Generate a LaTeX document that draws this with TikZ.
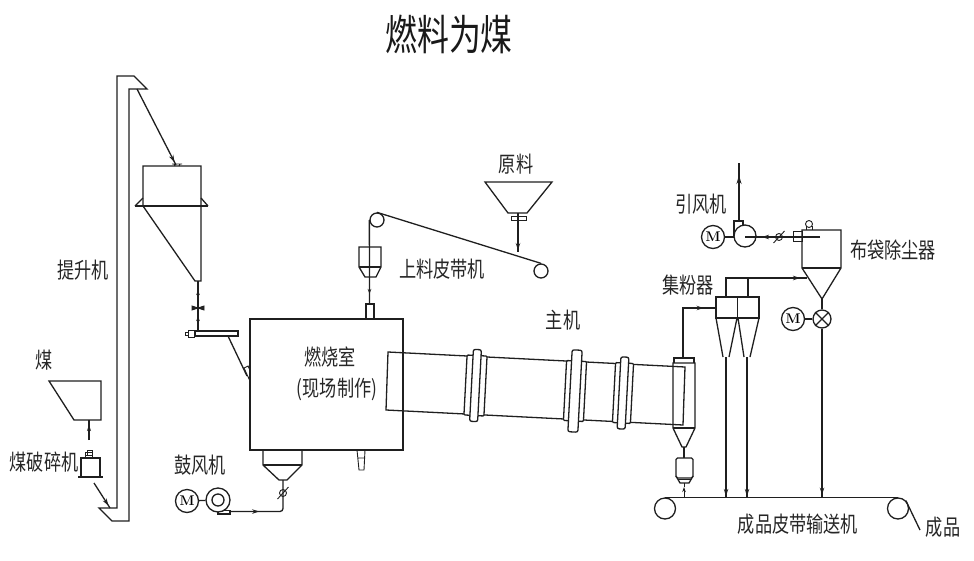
\documentclass[tikz,border=0pt]{standalone}
\usepackage{fontspec}
\usetikzlibrary{arrows.meta,decorations.markings}
\newfontfamily\cjk{Noto Sans CJK SC}[FakeStretch=0.78]
\newfontfamily\cjkt{Noto Sans CJK SC}[FakeStretch=0.76]
\tikzset{
  ln/.style={line width=1.3pt,draw=black!88,line join=miter},
  thin part/.style={line width=0.9pt,draw=black!88},
  lab/.style={font=\cjk\fontsize{22}{24}\selectfont,inner sep=0pt,text=black!85},
  ttl/.style={font=\cjkt\fontsize{42}{46}\selectfont,inner sep=0pt,text=black!90},
  motor/.style={circle,ln,minimum size=23pt,inner sep=0pt,font=\fontsize{14}{14}\selectfont\bfseries},
  pulley/.style={circle,ln,minimum size=#1,inner sep=0pt},
  flow/.style={postaction={decorate,decoration={markings,mark=at position #1 with {\arrow{Stealth[length=7pt,width=4.5pt]}}}}},
}
\newcommand{\tirering}[6]{%
  \begin{scope}[shift={(#1,#2)},rotate=-3]
    \draw[ln,fill=white,rounded corners=1pt] (-#5,-#4) rectangle (#5,#4);
    \draw[ln,fill=white,rounded corners=2pt] (-#6,-#3) rectangle (#6,#3);
  \end{scope}}
\newcommand{\slashvalve}[2]{%
  \draw[thin part] (#1,#2) circle (3.5);
  \draw[thin part] (#1-5.5,#2+6) -- (#1+5.5,#2-6);}
\begin{document}
\begin{tikzpicture}[x=1pt,y=-1pt]
\useasboundingbox (0,0) rectangle (974,560);
% labels
\node[ttl] (title) at (449,34) {燃料为煤};
\node[lab] (tsj) at (83,270) {提升机};
\node[lab] (mei) at (44,360) {煤};
\node[lab] (pss) at (44,462) {煤破碎机};
\node[lab] (gfj) at (200,465) {鼓风机};
\node[lab] (rsh) at (330,357) {燃烧室};
\node[lab] (xc) at (337,389) {(现场制作)};
\node[lab] (yl) at (516,164) {原料};
\node[lab] (slj) at (442,269) {上料皮带机};
\node[lab] (zj) at (563,320) {主机};
\node[lab] (yfj) at (701,204) {引风机};
\node[lab] (bd) at (893,250) {布袋除尘器};
\node[lab] (jf) at (688,285) {集粉器};
\node[lab] (cpj) at (798,524) {成品皮带输送机};
\node[lab] (cp) at (943,527) {成品};
% elevator
\draw[ln] (117,508) -- (117,76) -- (134,76) -- (147,89) -- (129,89) -- (129,521) -- (112,521) -- (99,508) -- cycle;
% chute to silo
\draw[ln,flow=0.96] (137,89) -- (176,165);
\draw[thin part] (172,164) -- (182,164) (174,164) -- (175,166) (180,164) -- (179,166);
% silo
\draw[ln] (143,206) -- (143,166) -- (201,166) -- (201,281) -- (195,281) -- (143,206);
\draw[ln] (135,206) -- (208,206);
\draw[ln] (135,206) -- (143,198) (201,198) -- (208,206);
% pipe and valve under silo
\draw[ln] (198,281) -- (198,331);
\draw[-{Stealth[length=5pt,width=3.5pt]},thin part] (198,296) -- (198,290);
\draw[-{Stealth[length=5pt,width=3.5pt]},thin part] (198,322) -- (198,316);
\draw[thin part,fill=black!85] (192,306) -- (204,310) -- (204,306) -- (192,310) -- cycle;
% screw feeder
\draw[ln,fill=white] (195,331) rectangle (238,336);
\draw[thin part,fill=white] (188,330) rectangle (194,337);
\draw[thin part,fill=white] (185,332) rectangle (188,335);
\draw[ln] (228,336) -- (247,376);
\draw[thin part,fill=white] (244,368) -- (248,366) -- (250,370) -- (250,381) -- cycle;
% combustion chamber
\draw[ln] (250,319) rectangle (403,450);
\draw[ln] (366,319) -- (366,304) -- (374,304) -- (374,319);
\draw[ln] (263,450) -- (263,465) -- (279,480) -- (287,480) -- (302,465) -- (302,450);
\draw[ln] (263,465) -- (302,465);
\draw[thin part] (357,450) -- (359,470) -- (364,470) -- (365,450) (357.5,458) -- (364.5,458);
% blower
\node[motor] (m1) at (187,501) {M};
\node[pulley=24pt] (f1) at (218,500) {};
\node[pulley=12pt] (f1i) at (218,500) {};
\draw[ln] (m1) -- (f1);
\draw[ln] (224,510.5) -- (230,510.5) -- (230,514) -- (218,514) -- (218,512);
\coordinate (blowout) at (230,511.5);
\draw[ln,flow=0.35,rounded corners=3pt] (blowout) -- (283,511.5) -- (283,480);
\slashvalve{283}{493}
% coal hopper + crusher
\draw[ln] (49,381) -- (101,381) -- (101,420) -- (74,420) -- cycle;
\draw[ln] (89,440) -- (89,420);
\draw[-{Stealth[length=6pt,width=4pt]},thin part] (89,432) -- (89,425);
\draw[ln] (81,477) -- (81,458) -- (100,458) -- (100,477);
\draw[ln] (78,477) -- (103,477);
\draw[thin part] (85,458) -- (85,452) -- (92,452) -- (92,458) (85,455) -- (92,455);
\draw[thin part] (87,450) rectangle (92,455);
\draw[ln,flow=0.9] (94,483) -- (110,508);
% raw material hopper
\draw[ln] (485,182) -- (552,182) -- (527,213) -- (508,213) -- cycle;
\draw[thin part] (511,216) rectangle (526,220);
\draw[ln,flow=0.95] (518,213) -- (518,252);
% inclined belt
\node[pulley=14pt] (p1) at (377,220) {};
\node[pulley=14pt] (p2) at (541,271) {};
\draw[ln] (p1.north) -- (p2.north);
\draw[ln] (p1.west) -- (369.5,304);
\draw[ln] (359,247) -- (381,247) -- (381,267) -- (376,277) -- (365,277) -- (359,267) -- cycle;
\draw[ln] (359,267) -- (381,267);
\draw[-{Stealth[length=5pt,width=3.5pt]},thin part] (369.5,284) -- (369.5,294);
% kiln
\draw[ln] (685,367) -- (388,352) -- (386,410) -- (683,425) -- cycle;
\tirering{475.5}{385.5}{36}{30}{10}{4}
\tirering{575}{391}{41}{30}{10}{5}
\tirering{623}{393}{36}{30}{9}{4}
% cyclone at kiln tail
\draw[ln] (673,428) -- (673,363) -- (695,363) -- (695,428) -- (686,447) -- (682,447) -- cycle;
\draw[ln] (673,428) -- (695,428);
\draw[ln] (674,363) -- (674,358) -- (694,358) -- (694,363);
\draw[ln] (684,447) -- (684,458);
\draw[ln,rounded corners=1.5pt] (676,458) rectangle (693,478);
\draw[ln] (676,476) -- (680,483) -- (689,483) -- (693,476);
\draw[thin part] (678,479) -- (691,479);
\draw[-{Stealth[length=5pt,width=3.5pt]},thin part] (684,498) -- (684,487);
\draw[thin part] (684,487) -- (684,483);
% duct to collector
\draw[ln,flow=0.85] (683,358) -- (683,308) -- (716,308);
% collector
\draw[ln] (716,318) rectangle (759,297);
\draw[ln] (737.5,297) -- (737.5,318);
\draw[ln] (716,318) -- (723,357) (737,318) -- (729,357) (738,318) -- (744,357) (759,318) -- (750,357);
\draw[ln] (726,297) -- (726,278) -- (807,278);
\draw[ln] (748,278) -- (748,297);
\draw[-{Stealth[length=7pt,width=4.5pt]},ln] (790,278) -- (800,278);
\draw[ln,flow=0.985] (726,357) -- (726,498);
\draw[ln,flow=0.985] (747,357) -- (747,498);
% bag filter
\draw[ln] (802,268) -- (802,230) -- (841,230) -- (841,268) -- (822,299) -- cycle;
\draw[ln] (802,268) -- (841,268);
\draw[thin part] (793,231) rectangle (802,241);
\draw[thin part] (806,230) -- (806,226) (812,230) -- (812,226);
\draw[thin part] (809,224) circle (3.5);
\node[motor] (m3) at (793,319) {M};
\node[pulley=18pt] (rv) at (822,319) {};
\draw[ln] (m3) -- (rv);
\draw[ln] (822,299) -- (rv);
\draw[ln] (rv.north west) -- (rv.south east) (rv.north east) -- (rv.south west);
\draw[ln,flow=0.98] (rv) -- (822,498);
% exhaust fan
\node[motor] (m2) at (713,237) {M};
\node[pulley=22pt] (f2) at (745,236) {};
\draw[ln] (734,236) -- (734,221) -- (743,221) -- (743,225);
\draw[ln] (m2) -- (734,237);
\draw[ln] (820,237) -- (745,237);
\draw[-{Stealth[length=7pt,width=4.5pt]},ln] (772,237) -- (762,237);
\slashvalve{779}{237}
\coordinate (stack) at (739,163);
\draw[ln] (739,221) -- (stack);
\draw[-{Stealth[length=9pt,width=5pt]},ln] (739,186) -- (739,175);
% product belt
\node[pulley=21pt] (p3) at (665,508.5) {};
\node[pulley=21pt] (p4) at (898,508.5) {};
\draw[line width=1.5pt,draw=black!88] (p3.north) -- (p4.north);
\coordinate (tail) at (920,530);
\draw[ln] (p4.north east) -- (tail);
\end{tikzpicture}
\end{document}
